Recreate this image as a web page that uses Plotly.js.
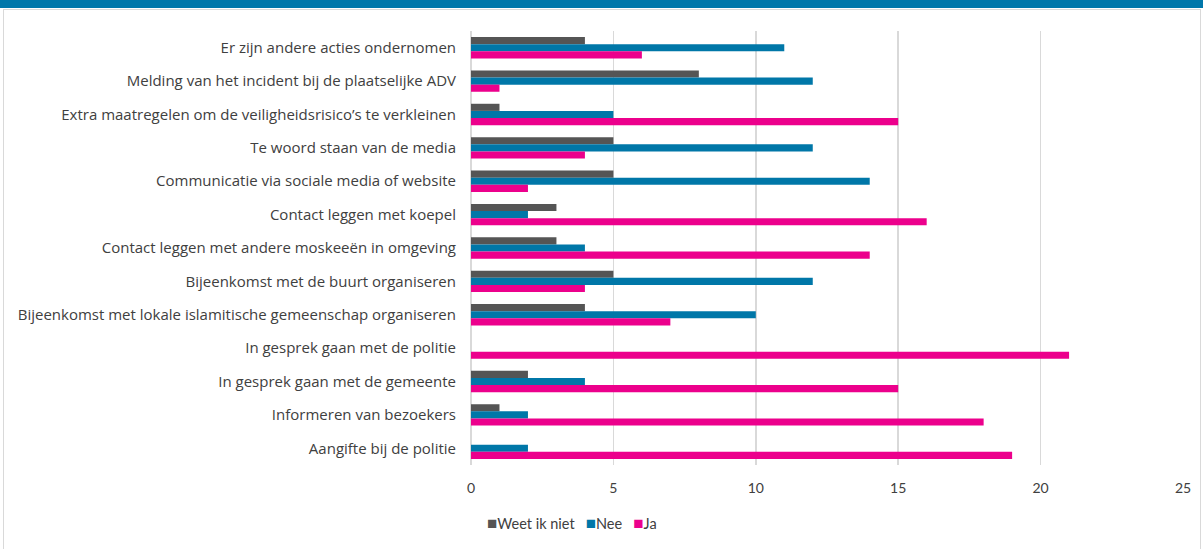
<!DOCTYPE html>
<html>
<head>
<meta charset="utf-8">
<script src="https://cdn.plot.ly/plotly-3.0.1.min.js"></script>
<style>
html,body{margin:0;padding:0;background:#fff;}
#wrap{position:relative;width:1203px;height:549px;overflow:hidden;}
#banner{position:absolute;left:0;top:0;width:1203px;height:8px;background:#0077AA;}
#frame{position:absolute;left:3px;top:9px;width:1196px;height:545px;border:1px solid #d9d9d9;border-bottom:none;}
#chart{position:absolute;left:0;top:0;width:1203px;height:549px;}
</style>
</head>
<body>
<div id="wrap">
<div id="frame"></div>
<div id="chart"></div>
<div id="banner"></div>
</div>
<script>
const categories = [
  "Er zijn andere acties ondernomen",
  "Melding van het incident bij de plaatselijke ADV",
  "Extra maatregelen om de veiligheidsrisico’s te verkleinen",
  "Te woord staan van de media",
  "Communicatie via sociale media of website",
  "Contact leggen met koepel",
  "Contact leggen met andere moskeeën in omgeving",
  "Bijeenkomst met de buurt organiseren",
  "Bijeenkomst met lokale islamitische gemeenschap organiseren",
  "In gesprek gaan met de politie",
  "In gesprek gaan met de gemeente",
  "Informeren van bezoekers",
  "Aangifte bij de politie"
];
const weetIkNiet = [4, 8, 1, 5, 5, 3, 3, 5, 4, 0, 2, 1, 0];
const nee        = [11, 12, 5, 12, 14, 2, 4, 12, 10, 0, 4, 2, 2];
const ja         = [6, 1, 15, 4, 2, 16, 14, 4, 7, 21, 15, 18, 19];
const seriesNames = ["Weet ik niet", "Nee", "Ja"];
const xTicks = [0, 5, 10, 15, 20, 25];

const colors = ["#555555", "#0077A8", "#EC008C"];
const vals = [weetIkNiet, nee, ja];
const data = vals.map((v, i) => ({
  type: "bar",
  orientation: "h",
  name: seriesNames[i],
  x: v,
  y: categories,
  marker: {color: colors[i]},
  hoverinfo: "x+y",
  showlegend: false
}));

const legendText = seriesNames.map((n, i) =>
  '<span style="color:' + colors[i] + ';font-size:17px">■</span>' + n
).join('&#160;&#160;&#160;');

const layout = {
  width: 1203,
  height: 549,
  margin: {l: 471, r: 20, t: 31, b: 84, pad: 0},
  paper_bgcolor: "rgba(0,0,0,0)",
  plot_bgcolor: "rgba(0,0,0,0)",
  font: {family: "'Open Sans', Lato, sans-serif", size: 14, color: "#404040"},
  barmode: "group",
  bargap: 0.36,
  bargroupgap: 0,
  xaxis: {
    range: [0, 25],
    tickvals: xTicks,
    showgrid: true,
    gridcolor: "#d9d9d9",
    gridwidth: 1.5,
    zeroline: true,
    zerolinecolor: "#d9d9d9",
    zerolinewidth: 1.5,
    ticks: "",
    ticklabelstandoff: 13,
    tickfont: {family: "Lato, 'Open Sans', sans-serif", size: 14, color: "#404040"},
    fixedrange: true
  },
  yaxis: {
    type: "category",
    autorange: "reversed",
    showgrid: false,
    zeroline: false,
    ticks: "",
    ticklabelstandoff: 14,
    tickfont: {family: "'Open Sans', Lato, sans-serif", size: 15, color: "#404040"},
    fixedrange: true
  },
  annotations: [{
    xref: "paper", yref: "paper",
    x: (572 - 471) / (1183 - 471),
    y: -(522 - 465) / (465 - 31),
    xanchor: "center", yanchor: "middle",
    showarrow: false,
    text: legendText,
    font: {family: "Lato, 'Open Sans', sans-serif", size: 14.5, color: "#404040"}
  }],
  showlegend: false
};

Plotly.newPlot("chart", data, layout, {displayModeBar: false, staticPlot: true});
</script>
</body>
</html>
